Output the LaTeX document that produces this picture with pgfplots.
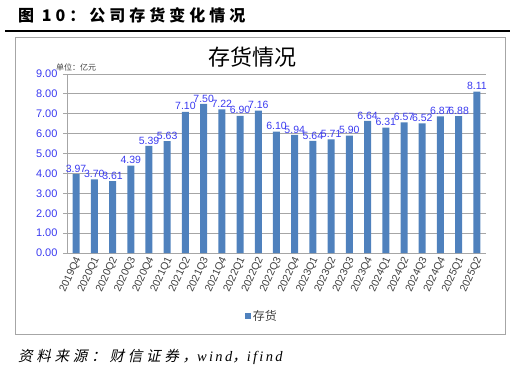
\documentclass[border=0pt]{standalone}
\usepackage{fontspec}
\usepackage{pgfplots}
\pgfplotsset{compat=1.18}
\setmainfont{Liberation Sans}
\newfontfamily\cjk{Noto Sans CJK SC}
\newfontfamily\cjkt[LetterSpace=25]{Noto Sans CJK SC}
\newfontfamily\cjkit[FakeSlant=0.22,LetterSpace=26]{Noto Sans CJK SC}
\newfontfamily\serifit[LetterSpace=16]{Liberation Serif}
\definecolor{barblue}{HTML}{4F81BD}
\definecolor{lblblue}{HTML}{3A3AF0}
\definecolor{gridgray}{HTML}{A6A6A6}
\definecolor{txtgray}{HTML}{404040}
\pgfplotstableread{
x y
0 3.97
1 3.70
2 3.61
3 4.39
4 5.39
5 5.63
6 7.10
7 7.50
8 7.22
9 6.90
10 7.16
11 6.10
12 5.94
13 5.64
14 5.71
15 5.90
16 6.64
17 6.31
18 6.57
19 6.52
20 6.87
21 6.88
22 8.11
}\inventory
\begin{document}
\begin{tikzpicture}
\path[use as bounding box] (0,0) rectangle (515pt,373pt);
% outer title
\node[anchor=west,inner sep=0pt] at (18pt,358pt) {\fontsize{16}{18}\selectfont\cjkt\bfseries 图\ 10：公司存货变化情况};
\draw[line width=1.6pt] (5pt,342pt) -- (510pt,342pt);
% chart frame
\draw[gridgray, line width=0.8pt] (15pt,39pt) rectangle (505pt,336pt);
\node[inner sep=0pt] at (252pt,316pt) {\fontsize{22}{24}\selectfont\cjk 存货情况};
\node[anchor=west,inner sep=0pt] at (56pt,306pt) {\fontsize{8}{9}\selectfont\cjk\color{txtgray}单位：亿元};
\begin{axis}[
  at={(67pt,120pt)}, anchor=south west,
  scale only axis, width=419pt, height=179pt,
  xmin=-0.5, xmax=22.5, ymin=0, ymax=9,
  axis x line*=bottom, axis y line*=left,
  axis line style={gridgray, line width=0.8pt, -},
  ybar, bar width=7pt,
  ytick={0,1,...,9},
  ymajorgrids, grid style={gridgray, line width=0.8pt},
  yticklabel style={/pgf/number format/fixed, /pgf/number format/fixed zerofill, /pgf/number format/precision=2, /pgf/number format/assume math mode=true, font=\fontsize{11}{12}\selectfont, color=lblblue, xshift=-2pt},
  ytick style={gridgray, line width=0.8pt},
  tick align=outside, major tick length=4pt,
  xtick={0,...,22},
  xticklabels={2019Q4,2020Q1,2020Q2,2020Q3,2020Q4,2021Q1,2021Q2,2021Q3,2021Q4,2022Q1,2022Q2,2022Q3,2022Q4,2023Q1,2023Q2,2023Q3,2023Q4,2024Q1,2024Q2,2024Q3,2024Q4,2025Q1,2025Q2},
  xticklabel style={font=\fontsize{10.5}{12}\selectfont, color=txtgray, rotate=65, anchor=east, inner sep=1pt, xshift=1.5pt, yshift=-2.5pt},
  xtick style={draw=none},
  minor xtick={-0.5,0.5,...,22.5},
  minor tick length=4pt,
  minor x tick style={gridgray, line width=0.8pt},
  nodes near coords={\pgfmathprintnumber[fixed,fixed zerofill,precision=2,assume math mode=true]{\pgfplotspointmeta}},
  nodes near coords style={font=\fontsize{10.5}{12}\selectfont, color=lblblue, anchor=south, inner sep=1.5pt},
  legend style={at={(0.465,-0.352)}, anchor=center, draw=none, fill=none, font=\fontsize{12}{13}\selectfont\cjk\color{txtgray}},
  legend image code/.code={\fill[barblue] (0pt,-3pt) rectangle (6pt,3pt);},
]
\addplot[fill=barblue, draw=none] table[x=x,y=y] {\inventory};
\addlegendentry{存货}
\end{axis}
% source
\node[anchor=west,inner sep=0pt] at (18pt,16pt) {\fontsize{14.5}{16}\selectfont\cjkit 资料来源：财信证券，\serifit\itshape wind\cjkit ，\serifit\itshape ifind};
\end{tikzpicture}
\end{document}
